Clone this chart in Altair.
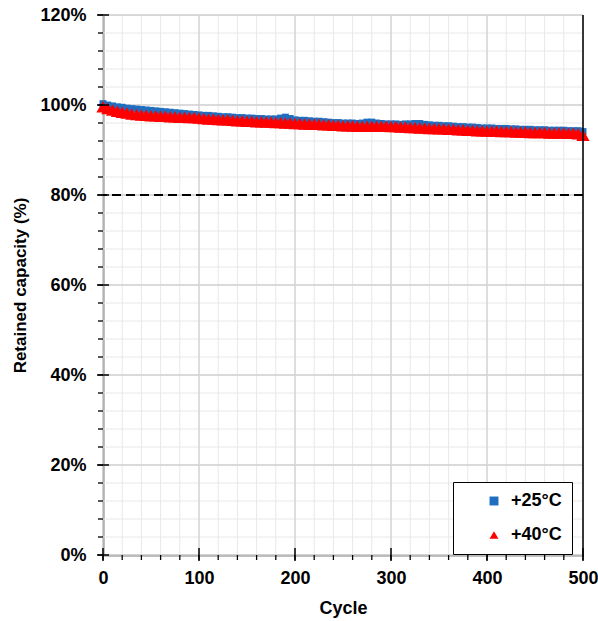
import altair as alt
import pandas as pd

# ---------------- data ----------------
cycles = list(range(0, 501, 5))

cap_25 = [
    100.3, 100.0, 99.8, 99.6, 99.5, 99.3, 99.2, 99.1, 99.0, 98.9,
    98.8, 98.7, 98.6, 98.5, 98.4, 98.3, 98.2, 98.1, 98.0, 97.9,
    97.8, 97.7, 97.7, 97.6, 97.5, 97.4, 97.4, 97.3, 97.2, 97.2,
    97.1, 97.1, 97.0, 97.0, 96.9, 96.9, 96.9, 97.1, 97.3, 97.0,
    96.7, 96.6, 96.6, 96.5, 96.4, 96.4, 96.3, 96.2, 96.1, 96.1,
    96.0, 96.0, 96.0, 95.9, 96.0, 96.2, 96.2, 96.0, 95.9, 95.8,
    95.8, 95.8, 95.7, 95.8, 95.8, 95.9, 95.9, 95.7, 95.6, 95.5,
    95.5, 95.4, 95.4, 95.3, 95.2, 95.2, 95.1, 95.1, 95.0, 94.9,
    94.9, 94.9, 94.8, 94.8, 94.8, 94.7, 94.7, 94.6, 94.6, 94.6,
    94.5, 94.5, 94.5, 94.4, 94.4, 94.4, 94.4, 94.3, 94.3, 94.3,
    94.1,
]

cap_40 = [
    99.6, 99.2, 98.9, 98.6, 98.4, 98.2, 98.0, 97.9, 97.8, 97.7,
    97.6, 97.6, 97.5, 97.5, 97.4, 97.4, 97.3, 97.3, 97.2, 97.2,
    97.1, 97.0, 96.9, 96.9, 96.8, 96.7, 96.7, 96.6, 96.5, 96.5,
    96.4, 96.4, 96.3, 96.3, 96.2, 96.2, 96.1, 96.1, 96.0, 96.0,
    95.9, 95.9, 95.8, 95.8, 95.7, 95.7, 95.6, 95.6, 95.5, 95.5,
    95.4, 95.4, 95.4, 95.3, 95.3, 95.3, 95.3, 95.3, 95.3, 95.3,
    95.2, 95.2, 95.1, 95.1, 95.0, 95.0, 94.9, 94.9, 94.8, 94.8,
    94.7, 94.7, 94.6, 94.6, 94.5, 94.5, 94.4, 94.4, 94.3, 94.3,
    94.2, 94.2, 94.2, 94.1, 94.1, 94.1, 94.0, 94.0, 94.0, 93.9,
    93.9, 93.9, 93.9, 93.8, 93.8, 93.8, 93.8, 93.7, 93.7, 93.6,
    93.3,
]

series_names = ["+25°C", "+40°C"]
series_colors = ["#1f6fc0", "#ff0000"]
series_shapes = ["square", "triangle-up"]

x_major = [0, 100, 200, 300, 400, 500]
x_minor = list(range(0, 501, 20))
y_major = [0, 20, 40, 60, 80, 100, 120]
y_minor = list(range(0, 121, 4))
threshold = [80]

FONT = "Liberation Sans"

# ---------------- frames ----------------
df = pd.concat([
    pd.DataFrame({"cycle": cycles, "cap": cap_25, "series": series_names[0]}),
    pd.DataFrame({"cycle": cycles, "cap": cap_40, "series": series_names[1]}),
])
dfx_major = pd.DataFrame({"v": x_major})
dfx_minor = pd.DataFrame({"v": x_minor})
dfy_major = pd.DataFrame({"v": y_major})
dfy_minor = pd.DataFrame({"v": y_minor})
dthr = pd.DataFrame({"v": threshold})

xscale = alt.Scale(domain=[0, 500], nice=False, zero=False)
yscale = alt.Scale(domain=[0, 120], nice=False, zero=False)

xaxis = alt.Axis(values=x_major, title="Cycle", grid=False, ticks=False,
                 labelFont=FONT, labelFontSize=18, labelFontWeight="bold",
                 labelColor="black", labelPadding=14,
                 titleFont=FONT, titleFontSize=18, titleFontWeight="bold",
                 titleColor="black", titlePadding=12,
                 domainColor="black", domainWidth=1.5, labelFlush=False)
yaxis = alt.Axis(values=y_major, title="Retained capacity (%)", grid=False, ticks=False,
                 labelExpr="datum.value + '%'",
                 labelFont=FONT, labelFontSize=18, labelFontWeight="bold",
                 labelColor="black", labelPadding=17,
                 titleFont=FONT, titleFontSize=17, titleFontWeight="bold",
                 titleColor="black", titlePadding=10,
                 domainColor="black", domainWidth=1.5, labelFlush=False)

# grid lines
vgrid_minor = alt.Chart(dfx_minor).mark_rule(color="#e8e8e8", strokeWidth=1).encode(
    x=alt.X("v:Q", scale=xscale, axis=xaxis))
vgrid_major = alt.Chart(dfx_major).mark_rule(color="#d2d2d2", strokeWidth=1.3).encode(
    x=alt.X("v:Q", scale=xscale))
hgrid_minor = alt.Chart(dfy_minor).mark_rule(color="#e8e8e8", strokeWidth=1).encode(
    y=alt.Y("v:Q", scale=yscale, axis=yaxis))
hgrid_major = alt.Chart(dfy_major).mark_rule(color="#d2d2d2", strokeWidth=1.3).encode(
    y=alt.Y("v:Q", scale=yscale))

# ticks
ytick_minor = alt.Chart(dfy_minor).mark_rule(color="black", strokeWidth=1.3).encode(
    y=alt.Y("v:Q", scale=yscale), x=alt.value(-5), x2=alt.value(0))
ytick_major = alt.Chart(dfy_major).mark_rule(color="black", strokeWidth=1.5).encode(
    y=alt.Y("v:Q", scale=yscale), x=alt.value(-6), x2=alt.value(6))
xtick_minor = alt.Chart(dfx_minor).mark_rule(color="black", strokeWidth=1.3).encode(
    x=alt.X("v:Q", scale=xscale), y=alt.value(540), y2=alt.value(545))
xtick_major = alt.Chart(dfx_major).mark_rule(color="black", strokeWidth=1.5).encode(
    x=alt.X("v:Q", scale=xscale), y=alt.value(533), y2=alt.value(546))

# right border
right_border = alt.Chart(pd.DataFrame({"v": [500]})).mark_rule(color="black", strokeWidth=1.5).encode(
    x=alt.X("v:Q", scale=xscale))

# threshold
thr = alt.Chart(dthr).mark_rule(color="black", strokeWidth=2.2, strokeDash=[9, 5]).encode(
    y=alt.Y("v:Q", scale=yscale))

color_enc = alt.Color("series:N", scale=alt.Scale(domain=series_names, range=series_colors),
                      legend=alt.Legend(title=None, orient="none", legendX=350, legendY=467,
                                        labelFont=FONT, labelFontSize=18, labelFontWeight="bold",
                                        labelColor="black", symbolSize=80, symbolStrokeWidth=0,
                                        strokeColor="black", fillColor="white", padding=10,
                                        symbolOffset=22, rowPadding=16, labelOffset=8,
                                        labelLimit=200))
shape_enc = alt.Shape("series:N", scale=alt.Scale(domain=series_names, range=series_shapes),
                      legend=None)

pts_25 = alt.Chart(df[df["series"] == series_names[0]]).mark_point(
    filled=True, size=48, opacity=1).encode(
    x=alt.X("cycle:Q", scale=xscale), y=alt.Y("cap:Q", scale=yscale),
    color=color_enc, shape=shape_enc)
pts_40 = alt.Chart(df[df["series"] == series_names[1]]).mark_point(
    filled=True, size=175, opacity=1).encode(
    x=alt.X("cycle:Q", scale=xscale), y=alt.Y("cap:Q", scale=yscale),
    color=color_enc, shape=shape_enc)

chart = alt.layer(
    vgrid_minor, hgrid_minor, vgrid_major, hgrid_major,
    thr, pts_25, pts_40,
    ytick_minor, ytick_major, xtick_minor, xtick_major, right_border,
).properties(
    width=480, height=540, autosize="none",
    padding={"left": 103, "top": 15, "right": 15, "bottom": 66},
).configure_view(stroke=None).configure(background="white")

chart.save("out.html", embed_options={"renderer": "svg", "actions": False})
